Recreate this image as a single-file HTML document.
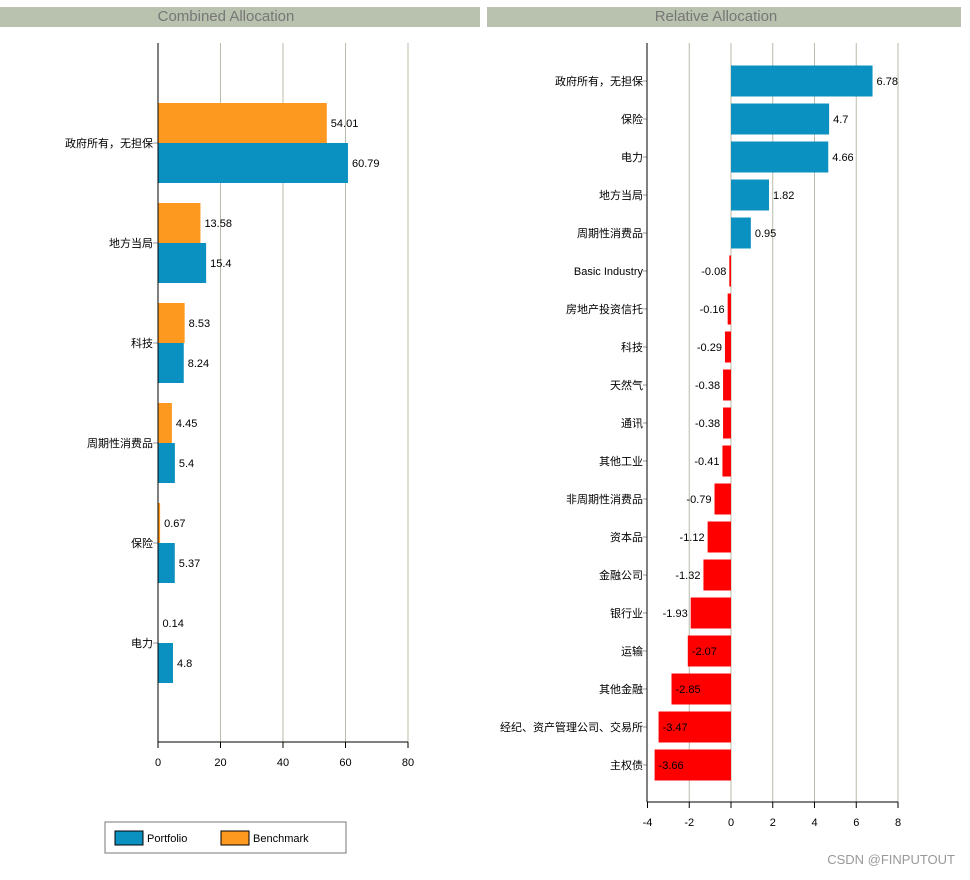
<!DOCTYPE html>
<html><head><meta charset="utf-8"><style>
body{margin:0;background:#fff;width:970px;height:875px;overflow:hidden;font-family:"Liberation Sans","Noto Sans CJK SC",sans-serif}
svg text{font-family:"Liberation Sans","Noto Sans CJK SC",sans-serif}
</style></head><body>
<svg id="c" width="970" height="875">
<rect x="0" y="7" width="480" height="20" fill="#b8c2ae"/>
<text x="226" y="21" font-size="15" fill="#777" text-anchor="middle">Combined Allocation</text>
<rect x="487" y="7" width="474" height="20" fill="#b8c2ae"/>
<text x="716" y="21" font-size="15" fill="#777" text-anchor="middle">Relative Allocation</text>
<g id="L"></g><g id="R"></g>
<rect x="105" y="822" width="241" height="31" fill="#fff" stroke="#777"/>
<rect x="115" y="831" width="28" height="14" fill="#0b91c1" stroke="#000"/>
<text x="147" y="842" font-size="11">Portfolio</text>
<rect x="221" y="831" width="28" height="14" fill="#fd991f" stroke="#000"/>
<text x="253" y="842" font-size="11">Benchmark</text>
<text x="955" y="864" font-size="13" fill="#999" text-anchor="end">CSDN @FINPUTOUT</text>
</svg>
<script>
const leftCats=["政府所有，无担保","地方当局","科技","周期性消费品","保险","电力"];
const portfolio=[60.79,15.4,8.24,5.4,5.37,4.8];
const benchmark=[54.01,13.58,8.53,4.45,0.67,0.14];
const leftTicks=[0,20,40,60,80];
const relCats=["政府所有，无担保","保险","电力","地方当局","周期性消费品","Basic Industry","房地产投资信托","科技","天然气","通讯","其他工业","非周期性消费品","资本品","金融公司","银行业","运输","其他金融","经纪、资产管理公司、交易所","主权债"];
const relVals=[6.78,4.7,4.66,1.82,0.95,-0.08,-0.16,-0.29,-0.38,-0.38,-0.41,-0.79,-1.12,-1.32,-1.93,-2.07,-2.85,-3.47,-3.66];
const relTicks=[-4,-2,0,2,4,6,8];
const NS="http://www.w3.org/2000/svg";
function mk(p,t,a,txt){const e=document.createElementNS(NS,t);for(const k in a)e.setAttribute(k,a[k]);if(txt!==undefined)e.textContent=txt;p.appendChild(e);return e;}
// left
const L=document.getElementById('L');
const lx=v=>158+v*250/80, lyc=i=>143+i*100;
leftTicks.forEach(t=>{if(t>0){const g=mk(L,'line',{x1:lx(t),x2:lx(t),y1:43,y2:742,stroke:'#b8bcaa'});}
const tl=mk(L,'text',{x:lx(t),y:766,'font-size':11,'text-anchor':'middle'},t);
mk(L,'line',{x1:lx(t),x2:lx(t),y1:742,y2:748,stroke:'#000'});});
leftCats.forEach((c,i)=>{const y=lyc(i);
const b=mk(L,'rect',{x:158,y:y-40,width:lx(benchmark[i])-158,height:40,fill:'#fd991f'});
const p=mk(L,'rect',{x:158,y:y,width:lx(portfolio[i])-158,height:40,fill:'#0b91c1'});
const bt=mk(L,'text',{x:lx(benchmark[i])+4,y:y-16,'font-size':11},benchmark[i]);
const pt=mk(L,'text',{x:lx(portfolio[i])+4,y:y+24,'font-size':11},portfolio[i]);
const ct=mk(L,'text',{x:153,y:y+4,'font-size':11,'text-anchor':'end'},c);
mk(L,'line',{x1:153,x2:158,y1:y,y2:y,stroke:'#999'});});
mk(L,'line',{x1:158,x2:158,y1:43,y2:742,stroke:'#000'});
mk(L,'line',{x1:158,x2:408,y1:742,y2:742,stroke:'#000'});
// right
const R=document.getElementById('R');
const rx=v=>731+v*(898-731)/8, ryc=i=>81+i*38;
relTicks.forEach(t=>{if(t!==-4){const g=mk(R,'line',{x1:rx(t),x2:rx(t),y1:43,y2:802,stroke:'#b8bcaa'});}
const tl=mk(R,'text',{x:rx(t),y:826,'font-size':11,'text-anchor':'middle'},t);
mk(R,'line',{x1:rx(t),x2:rx(t),y1:802,y2:808,stroke:'#000'});});
relCats.forEach((c,i)=>{const y=ryc(i),v=relVals[i];
const x0=Math.min(rx(0),rx(v)),w=Math.abs(rx(v)-rx(0));
const r=mk(R,'rect',{x:x0,y:y-15.5,width:w,height:31,fill:v>=0?'#0b91c1':'#ff0000'});
let a;if(v>=0)a={x:rx(v)+4,'text-anchor':'start'};else if(v>-2)a={x:rx(v)-3,'text-anchor':'end'};else a={x:rx(v)+4,'text-anchor':'start'};
a.y=y+4;a['font-size']=11;
const vt=mk(R,'text',a,v);
const ct=mk(R,'text',{x:643,y:y+4,'font-size':11,'text-anchor':'end'},c);
mk(R,'line',{x1:643,x2:647,y1:y,y2:y,stroke:'#999'});});
mk(R,'line',{x1:647,x2:647,y1:43,y2:802,stroke:'#000'});
mk(R,'line',{x1:647,x2:898,y1:802,y2:802,stroke:'#000'});
</script>
</body></html>
